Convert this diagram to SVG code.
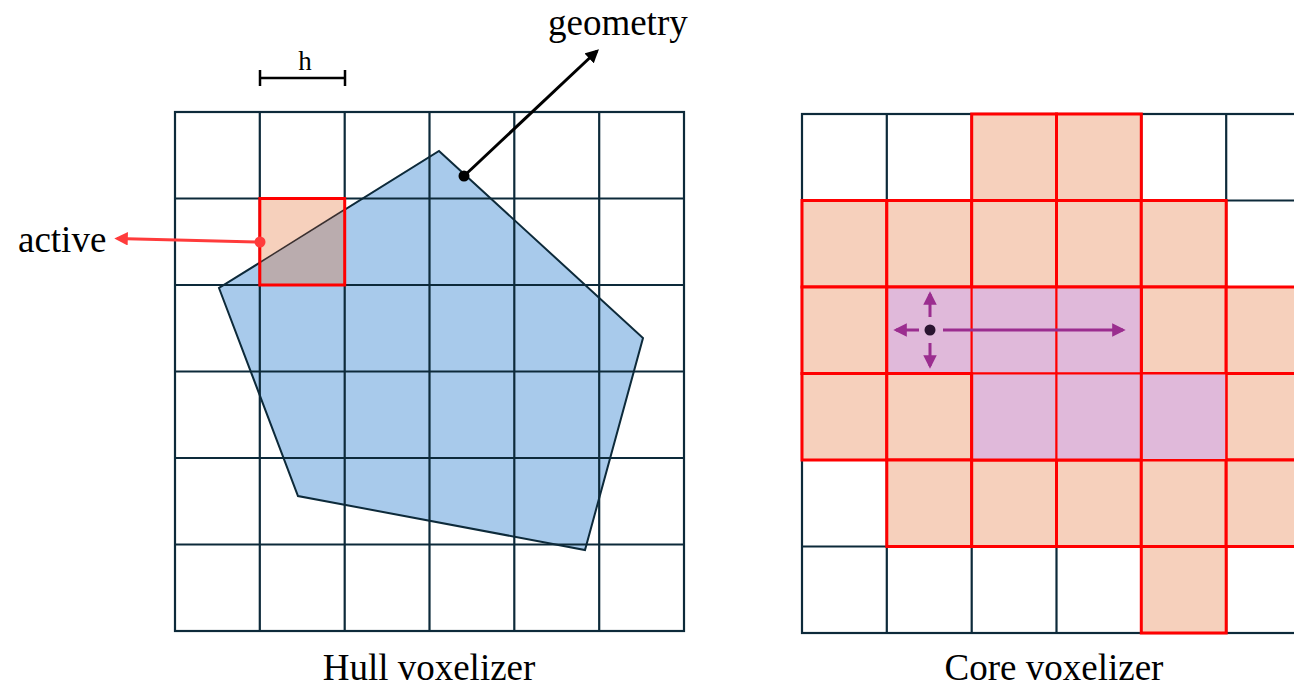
<svg xmlns="http://www.w3.org/2000/svg" width="1294" height="688" viewBox="0 0 1294 688">
<style>
.lbl{font-family:"Liberation Serif","Times New Roman",serif;font-size:37px;fill:#000}
.grid{stroke:#0d2a3a;stroke-width:2.2;fill:none}
.act{fill:#f6d0bc;stroke:#ff0000;stroke-width:3}
.core{fill:#e0b9da;stroke:#ff0000;stroke-width:2}
.pa{stroke:#9b2d8f;stroke-width:3;fill:none}
</style>
<defs>
<marker id="ab" viewBox="0 0 10 10" refX="8" refY="5" markerWidth="4.5" markerHeight="4.5" orient="auto"><path d="M0,0L10,5L0,10z" fill="#000"/></marker>
<marker id="ar" viewBox="0 0 10 10" refX="8" refY="5" markerWidth="4.5" markerHeight="4.5" orient="auto"><path d="M0,0L10,5L0,10z" fill="#ff3b3b"/></marker>
<marker id="ap" viewBox="0 0 10 10" refX="8" refY="5" markerWidth="4.5" markerHeight="4.5" orient="auto"><path d="M0,0L10,5L0,10z" fill="#9b2d8f"/></marker>
</defs>
<rect width="1294" height="688" fill="#fff"/>

<g id="hull">
<polygon points="439,151 643,338 585,550 298,496 219,288" fill="#a8caeb"/>
<g class="grid">
<rect x="175" y="112" width="509" height="519"/>
<path d="M259.8,112V631M344.7,112V631M429.5,112V631M514.3,112V631M599.2,112V631M175,198.5H684M175,285H684M175,371.5H684M175,458H684M175,544.5H684"/>
</g>
<polygon points="439,151 643,338 585,550 298,496 219,288" fill="none" stroke="#0d2a3a" stroke-width="2"/>
</g>

<g id="active-cell">
<rect x="259.8" y="198.5" width="84.9" height="86.5" fill="#f6d0bc"/>
<polygon points="259.8,262.5 344.7,209.5 344.7,285 259.8,285" fill="#baacae"/>
<line x1="259.8" y1="262.5" x2="344.7" y2="209.5" stroke="#3a3030" stroke-width="1.5"/>
<rect x="259.8" y="198.5" width="84.9" height="86.5" fill="none" stroke="#ff0000" stroke-width="3"/>
</g>

<g id="h-scale">
<path d="M260,78H345M260,70V86M345,70V86" stroke="#000" stroke-width="2.5" fill="none"/>
<text x="305" y="70" text-anchor="middle" style="font-family:'Liberation Serif',serif;font-size:27px">h</text>
</g>

<g id="core">
<g fill="#fff" class="grid">
<rect x="802" y="114" width="509" height="519"/>
<path d="M886.8,114V633M971.7,114V633M1056.5,114V633M1141.3,114V633M1226.2,114V633M802,200.5H1311M802,287H1311M802,373.5H1311M802,460H1311M802,546.5H1311"/>
</g>
<g class="act">
<rect x="971.7" y="114" width="84.8" height="86.5"/>
<rect x="1056.5" y="114" width="84.8" height="86.5"/>
<rect x="802" y="200.5" width="84.8" height="86.5"/>
<rect x="886.8" y="200.5" width="84.9" height="86.5"/>
<rect x="971.7" y="200.5" width="84.8" height="86.5"/>
<rect x="1056.5" y="200.5" width="84.8" height="86.5"/>
<rect x="1141.3" y="200.5" width="84.9" height="86.5"/>
<rect x="802" y="287" width="84.8" height="86.5"/>
<rect x="1141.3" y="287" width="84.9" height="86.5"/>
<rect x="1226.2" y="287" width="84.8" height="86.5"/>
<rect x="802" y="373.5" width="84.8" height="86.5"/>
<rect x="886.8" y="373.5" width="84.9" height="86.5"/>
<rect x="1226.2" y="373.5" width="84.8" height="86.5"/>
<rect x="886.8" y="460" width="84.9" height="86.5"/>
<rect x="971.7" y="460" width="84.8" height="86.5"/>
<rect x="1056.5" y="460" width="84.8" height="86.5"/>
<rect x="1141.3" y="460" width="84.9" height="86.5"/>
<rect x="1226.2" y="460" width="84.8" height="86.5"/>
<rect x="1141.3" y="546.5" width="84.9" height="86.5"/>
</g>
<g class="core">
<rect x="886.8" y="287" width="84.9" height="86.5"/>
<rect x="971.7" y="287" width="84.8" height="86.5"/>
<rect x="1056.5" y="287" width="84.8" height="86.5"/>
<rect x="971.7" y="373.5" width="84.8" height="86.5"/>
<rect x="1056.5" y="373.5" width="84.8" height="86.5"/>
<rect x="1141.3" y="373.5" width="84.9" height="86.5"/>
</g>
<path d="M886.8,287H1141.3V460H971.7V373.5H886.8Z" fill="none" stroke="#ff0000" stroke-width="3"/>
</g>

<g id="connectors">
<line x1="464" y1="176" x2="597" y2="51" stroke="#000" stroke-width="3" marker-end="url(#ab)"/>
<circle cx="464" cy="176" r="5.5" fill="#000"/>
<line x1="260" y1="242" x2="117" y2="238.5" stroke="#ff3b3b" stroke-width="3" marker-end="url(#ar)"/>
<circle cx="260" cy="242" r="5.5" fill="#ff3b3b"/>
<line class="pa" x1="930" y1="317" x2="930" y2="294" marker-end="url(#ap)"/>
<line class="pa" x1="930" y1="343" x2="930" y2="366" marker-end="url(#ap)"/>
<line class="pa" x1="919" y1="330" x2="896" y2="330" marker-end="url(#ap)"/>
<line class="pa" x1="943" y1="330" x2="1123" y2="330" marker-end="url(#ap)"/>
<circle cx="930" cy="330" r="5.5" fill="#2a1530"/>
</g>

<g id="labels">
<text class="lbl" x="548" y="35">geometry</text>
<text class="lbl" x="18" y="252">active</text>
<text class="lbl" x="429" y="680" text-anchor="middle">Hull voxelizer</text>
<text class="lbl" x="1054" y="680" text-anchor="middle">Core voxelizer</text>
</g>
</svg>
